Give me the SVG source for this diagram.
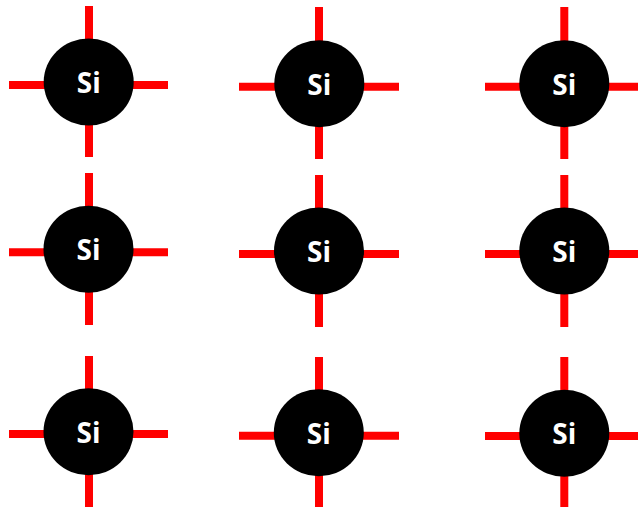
<svg xmlns="http://www.w3.org/2000/svg" width="638" height="507" viewBox="0 0 638 507">
<style>
.bond{stroke:#ff0000;stroke-width:8;fill:none}
.atom{fill:#000}
.lbl{fill:#fff;font-family:"Open Sans","Liberation Sans",sans-serif;font-weight:bold;font-size:28px;text-anchor:middle}
</style>
<rect width="638" height="507" fill="#fff"/>
<g id="connectors">
<path class="bond" d="M89 6V157M9 85H168"/>
<path class="bond" d="M319 7V159M239 86.7H399"/>
<path class="bond" d="M564.3 7V159M485 86.7H638"/>
<path class="bond" d="M89 173V325M9 252.2H168"/>
<path class="bond" d="M319 175V327M239 254H399"/>
<path class="bond" d="M564.3 175V327M485 254H638"/>
<path class="bond" d="M89 356V507M9 434H168"/>
<path class="bond" d="M319 357V507M239 435.8H399"/>
<path class="bond" d="M564.3 357V507M485 436H638"/>
</g>
<g id="si-1-1"><ellipse class="atom" cx="88.7" cy="82" rx="45" ry="43.5"/><text class="lbl" x="88.7" y="93">Si</text></g>
<g id="si-1-2"><ellipse class="atom" cx="319.3" cy="83.7" rx="45" ry="43.5"/><text class="lbl" x="319.3" y="94.7">Si</text></g>
<g id="si-1-3"><ellipse class="atom" cx="564.3" cy="83.7" rx="45" ry="43.5"/><text class="lbl" x="564.3" y="94.7">Si</text></g>
<g id="si-2-1"><ellipse class="atom" cx="88.5" cy="249.2" rx="45" ry="43.5"/><text class="lbl" x="88.5" y="260.2">Si</text></g>
<g id="si-2-2"><ellipse class="atom" cx="319" cy="251" rx="45" ry="43.5"/><text class="lbl" x="319" y="262">Si</text></g>
<g id="si-2-3"><ellipse class="atom" cx="564.3" cy="251" rx="45" ry="43.5"/><text class="lbl" x="564.3" y="262">Si</text></g>
<g id="si-3-1"><ellipse class="atom" cx="88.5" cy="431.7" rx="45" ry="43.5"/><text class="lbl" x="88.5" y="442.7">Si</text></g>
<g id="si-3-2"><ellipse class="atom" cx="318.8" cy="432.7" rx="45" ry="43.5"/><text class="lbl" x="318.8" y="443.7">Si</text></g>
<g id="si-3-3"><ellipse class="atom" cx="564.3" cy="433.3" rx="45" ry="43.5"/><text class="lbl" x="564.3" y="444.3">Si</text></g>
</svg>
